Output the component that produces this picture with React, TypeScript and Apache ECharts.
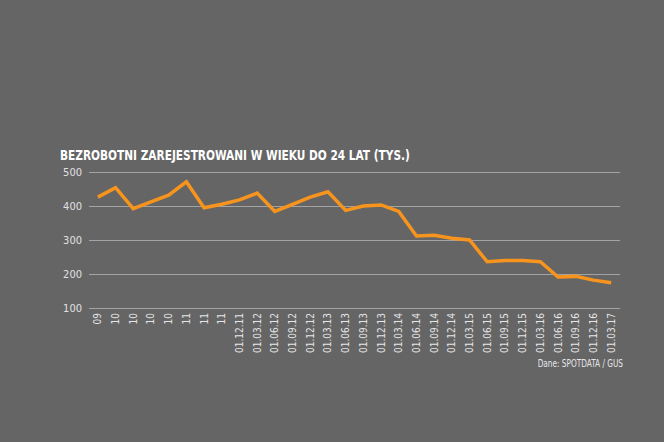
import React, { useEffect, useRef } from "react";
import * as echarts from "echarts";

const title = "BEZROBOTNI ZAREJESTROWANI W WIEKU DO 24 LAT (TYS.)";
const source = "Dane: SPOTDATA / GUS";
const categories = [
  "09", "10", "10", "10", "10", "11", "11", "11",
  "01.12.11", "01.03.12", "01.06.12", "01.09.12", "01.12.12",
  "01.03.13", "01.06.13", "01.09.13", "01.12.13",
  "01.03.14", "01.06.14", "01.09.14", "01.12.14",
  "01.03.15", "01.06.15", "01.09.15", "01.12.15",
  "01.03.16", "01.06.16", "01.09.16", "01.12.16", "01.03.17",
];
const values = [
  426, 454, 392, 412, 432, 471, 395, 405,
  418, 438, 384, 405, 426,
  442, 387, 400, 403,
  384, 312, 314, 305,
  300, 236, 240, 240,
  236, 191, 193, 182, 174,
];
const yTicks = [100, 200, 300, 400, 500];

const FONT = "'DejaVu Sans Condensed', 'DejaVu Sans', sans-serif";

export default function App() {
  const ref = useRef<HTMLDivElement>(null);
  useEffect(() => {
    if (!ref.current) return;
    const chart = echarts.init(ref.current, undefined, { renderer: "svg" });
    chart.setOption({
      animation: false,
      backgroundColor: "#656566",
      graphic: [
        {
          type: "text",
          x: 60,
          y: 148,
          scaleX: 0.84,
          style: {
            text: title,
            fill: "#ffffff",
            font: `bold 14px ${FONT}`,
            textAlign: "left",
            textVerticalAlign: "top",
          },
        },
        {
          type: "text",
          x: 623,
          y: 359,
          scaleX: 0.82,
          style: {
            text: source,
            fill: "#e6e6e6",
            font: `10px ${FONT}`,
            textAlign: "right",
            textVerticalAlign: "top",
          },
        },
      ],
      grid: { left: 89, right: 44, top: 172, bottom: 134 },
      xAxis: {
        type: "category",
        data: categories,
        boundaryGap: true,
        axisLine: { show: false },
        axisTick: { show: false },
        axisLabel: {
          rotate: 90,
          interval: 0,
          color: "#e6e6e6",
          fontFamily: FONT,
          fontSize: 10,
          margin: 5,
        },
      },
      yAxis: {
        type: "value",
        min: yTicks[0],
        max: yTicks[yTicks.length - 1],
        interval: 100,
        axisLine: { show: false },
        axisTick: { show: false },
        axisLabel: { color: "#e0e0e0", fontFamily: FONT, fontSize: 11, margin: 7 },
        splitLine: { lineStyle: { color: "#a3a3a3", width: 1 } },
      },
      series: [
        {
          type: "line",
          data: values,
          symbol: "none",
          lineStyle: { color: "#f7941d", width: 3.5, join: "miter" },
        },
      ],
    });
    return () => chart.dispose();
  }, []);
  return <div ref={ref} style={{ width: 664, height: 442, position: "absolute", left: 0, top: 0 }} />;
}
